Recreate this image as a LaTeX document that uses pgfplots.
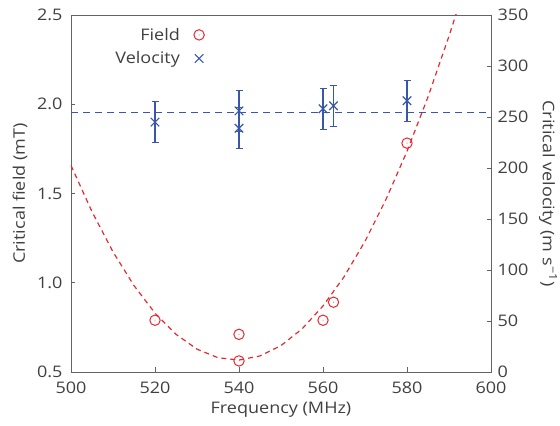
\documentclass[border=0pt]{standalone}
\usepackage{fontspec}
\setmainfont{Open Sans}[FakeStretch=1.13]
\usepackage{pgfplots}
\pgfplotsset{compat=1.18}
\definecolor{fieldred}{RGB}{232,40,48}
\definecolor{velblue}{RGB}{56,86,170}
\definecolor{framegray}{RGB}{100,100,100}
\definecolor{txt}{RGB}{64,64,64}

\pgfdeclareplotmark{odot}{%
  \pgfpathcircle{\pgfpointorigin}{\pgfplotmarksize}\pgfusepathqstroke
  \pgfpathcircle{\pgfpointorigin}{0.5pt}\pgfusepathqfill}

\pgfplotstableread{
f     B
520   0.79
540   0.711
540   0.562
560   0.79
562.5 0.891
580   1.782
}\fielddata

\pgfplotstableread{
f     v    e
520   245  20
540   256  20
540   239  20
560   258  20
562.5 261  20
580   266  20
}\veldata

\pgfplotstableread{
f    B
500  1.657
505  1.398
510  1.173
515  0.984
520  0.830
525  0.711
530  0.628
535  0.580
540  0.567
545  0.590
550  0.648
555  0.741
560  0.870
565  1.033
570  1.232
575  1.467
580  1.736
585  2.041
590  2.382
592  2.528
}\fieldfit

\newcommand{\fs}{\fontsize{16}{19}\selectfont\color{txt}}

\pgfplotsset{
  common/.style={
    scale only axis,
    width=420bp, height=357bp,
    xmin=500, xmax=600,
    axis line style={framegray, line width=0.9pt},
    tick style={framegray, line width=0.7pt},
    major tick length=4.5bp,
    tick align=inside,
    font=\fs,
    tick label style={font=\fs},
    /pgf/number format/assume math mode=true,
  }
}

\begin{document}
\begin{tikzpicture}
\begin{axis}[
  common,
  name=main,
  ymin=0.5, ymax=2.5,
  xtick={500,520,...,600},
  ytick={0.5,1.0,...,2.5},
  yticklabel style={xshift=-5bp, /pgf/number format/fixed, /pgf/number format/fixed zerofill, /pgf/number format/precision=1},
  xticklabel style={yshift=-6bp, /pgf/number format/fixed},
  tick pos=left,
  xlabel={Frequency (MHz)},
  ylabel={Critical field (mT)},
  xlabel style={at={(axis description cs:0.5,-0.1064)}, anchor=center},
  ylabel style={at={(axis description cs:-0.1214,0.5)}, anchor=center},
  legend style={draw=none, fill=none, at={(0.325,0.975)}, anchor=north east,
    font=\fs, row sep=6bp, /tikz/every odd column/.append style={column sep=12bp}},
  legend cell align=right,
  legend plot pos=right,
]
\addplot[fieldred, line width=1.2pt, dash pattern=on 5bp off 4bp, forget plot] table[x=f, y=B] {\fieldfit};
\addplot[only marks, mark=odot, mark size=5.2bp, fieldred, mark options={line width=1pt}] table[x=f, y=B] {\fielddata};
\addlegendentry{Field}
\addlegendimage{only marks, mark=x, mark size=6bp, velblue, mark options={line width=1.2pt}}
\addlegendentry{Velocity}
\end{axis}

\begin{axis}[
  common,
  ymin=0, ymax=350,
  ytick={0,50,...,350},
  axis x line=none,
  axis y line*=right,
  yticklabel style={xshift=3bp},
  ylabel={Critical velocity (m s\textsuperscript{\kern0.5pt −1})},
  ylabel style={at={(axis description cs:1.1357,0.5)}, anchor=center, rotate=180},
]
\addplot[velblue, line width=1.2pt, dash pattern=on 7bp off 5bp] coordinates {(500,254.2) (600,254.2)};
\addplot[only marks, mark=x, mark size=6bp, velblue, mark options={line width=1.2pt},
  error bars/.cd, y dir=both, y explicit,
  error bar style={line width=1.1pt, velblue},
  error mark options={rotate=90, mark size=3.5bp, line width=1.1pt, velblue}]
  table[x=f, y=v, y error=e] {\veldata};
\end{axis}
\pgfresetboundingbox
\path ([shift={(-71bp,-54bp)}]main.south west) rectangle ([shift={(69bp,15bp)}]main.north east);
\end{tikzpicture}
\end{document}
